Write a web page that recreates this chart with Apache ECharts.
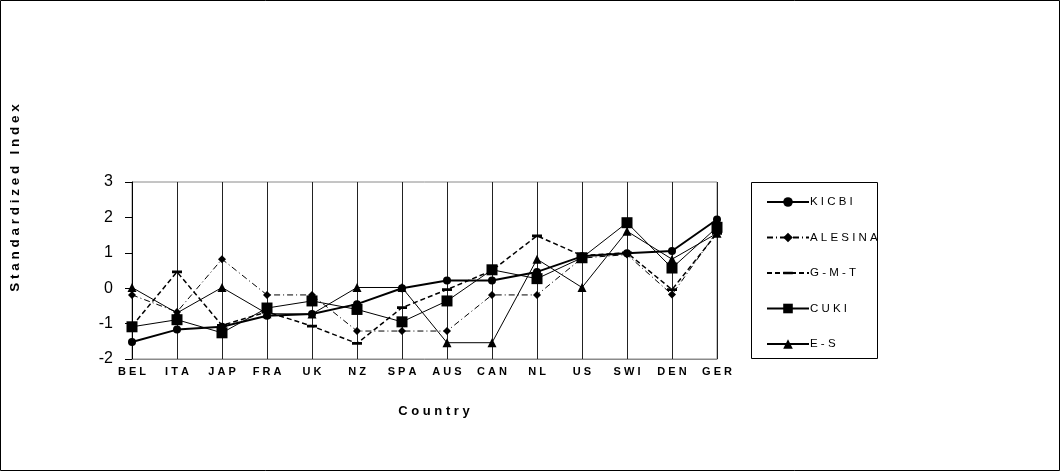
<!DOCTYPE html>
<html>
<head>
<meta charset="utf-8">
<script src="https://cdn.jsdelivr.net/npm/echarts@6/dist/echarts.min.js"></script>
<style>
  html, body { margin: 0; padding: 0; background: #fff; }
  #chart { width: 1061px; height: 472px; }
</style>
</head>
<body>
<div id="chart"></div>
<script>
// 国家 (categories)
var countries = ['B E L', 'I T A', 'J A P', 'F R A', 'U K', 'N Z', 'S P A', 'A U S', 'C A N', 'N L', 'U S', 'S W I', 'D E N', 'G E R'];
var yTicks = [-2, -1, 0, 1, 2, 3];

// series values
var kicbi   = [-1.52, -1.17, -1.09, -0.78, -0.73, -0.45, 0.00, 0.22, 0.22, 0.46, 0.90, 0.99, 1.05, 1.94];
var alesina = [-0.19, -0.67, 0.82, -0.19, -0.19, -1.21, -1.21, -1.21, -0.19, -0.19, 0.85, 0.95, -0.18, 1.60];
var gmt     = [-1.07, 0.46, -1.05, -0.67, -1.07, -1.56, -0.55, -0.04, 0.50, 1.48, 0.92, 1.00, -0.04, 1.55];
var cuki    = [-1.09, -0.89, -1.26, -0.56, -0.36, -0.60, -0.95, -0.36, 0.52, 0.27, 0.86, 1.85, 0.57, 1.72];
var es      = [0.02, -0.70, 0.02, -0.72, -0.73, 0.02, 0.02, -1.54, -1.54, 0.82, 0.02, 1.61, 0.82, 1.55];

var font = 'Liberation Sans, Arial, sans-serif';
// 短横线标记: square bounds, bar in the middle
var dashMark = 'path://M0,0h0.01v0.01h-0.01z M0,3.6h10v2.8h-10z M9.99,9.99h0.01v0.01h-0.01z';

var myChart = echarts.init(document.getElementById('chart'));

function mkSeries(name, data, symbol, symbolSize, lineType, width) {
    return {
        name: name,
        type: 'line',
        data: data,
        symbol: symbol,
        symbolSize: symbolSize,
        showAllSymbol: true,
        animation: false,
        itemStyle: { color: '#000' },
        lineStyle: { color: '#000', width: width, type: lineType }
    };
}

var option = {
    animation: false,
    backgroundColor: '#fff',
    grid: {
        left: 132, right: 344, top: 182, bottom: 113,
        show: true, borderColor: '#8a8a8a', borderWidth: 1
    },
    xAxis: {
        type: 'category',
        data: countries,
        boundaryGap: false,
        axisLine: { onZero: false, lineStyle: { color: '#8a8a8a' } },
        axisTick: { show: false },
        splitLine: { show: true, lineStyle: { color: '#222', width: 1 } },
        axisLabel: {
            interval: 0, margin: 7,
            fontFamily: font, fontSize: 11, fontWeight: 'bold', color: '#000'
        }
    },
    yAxis: {
        type: 'value',
        min: -2, max: 3, interval: 1,
        axisLine: { show: true, lineStyle: { color: '#000' } },
        axisTick: { show: true, length: 7, lineStyle: { color: '#000' } },
        splitLine: { show: false },
        axisLabel: {
            margin: 19,
            fontFamily: font, fontSize: 16, color: '#000',
            formatter: function (v) { return yTicks.indexOf(v) >= 0 ? String(v) : ''; }
        }
    },
    legend: {
        orient: 'vertical',
        left: 761, top: 191,
        itemWidth: 42, itemHeight: 12, itemGap: 23.5,
        data: ['K I C B I', 'A L E S I N A', 'G - M - T', 'C U K I', 'E - S'],
        textStyle: { fontFamily: font, fontSize: 11.5, color: '#000', padding: [0, 0, 0, -4] }
    },
    series: [
        mkSeries('K I C B I', kicbi, 'circle', 8, 'solid', 2),
        mkSeries('A L E S I N A', alesina, 'diamond', 8, [6, 3, 1, 3], 1),
        mkSeries('G - M - T', gmt, dashMark, 10, [5, 3], 1.5),
        mkSeries('C U K I', cuki, 'rect', 11, 'solid', 1),
        mkSeries('E - S', es, 'triangle', 9, 'solid', 1)
    ],
    graphic: [
        {
            type: 'rect', silent: true,
            shape: { x: 0.5, y: 0.5, width: 1059, height: 470 },
            style: { fill: null, stroke: '#000', lineWidth: 1 }
        },
        {
            type: 'rect', silent: true,
            shape: { x: 751.5, y: 182.5, width: 126, height: 176 },
            style: { fill: null, stroke: '#000', lineWidth: 1 }
        },
        {
            type: 'text', silent: true,
            x: 15, y: 198, rotation: Math.PI / 2,
            style: {
                text: 'S t a n d a r d i z e d   I n d e x',
                fontFamily: font, fontSize: 13.5, fontWeight: 'bold', fill: '#000',
                textAlign: 'center', textVerticalAlign: 'middle'
            }
        },
        {
            type: 'text', silent: true,
            x: 434, y: 411,
            style: {
                text: 'C o u n t r y',
                fontFamily: font, fontSize: 13, fontWeight: 'bold', fill: '#000',
                textAlign: 'center', textVerticalAlign: 'middle'
            }
        }
    ]
};

myChart.setOption(option);
</script>
</body>
</html>
